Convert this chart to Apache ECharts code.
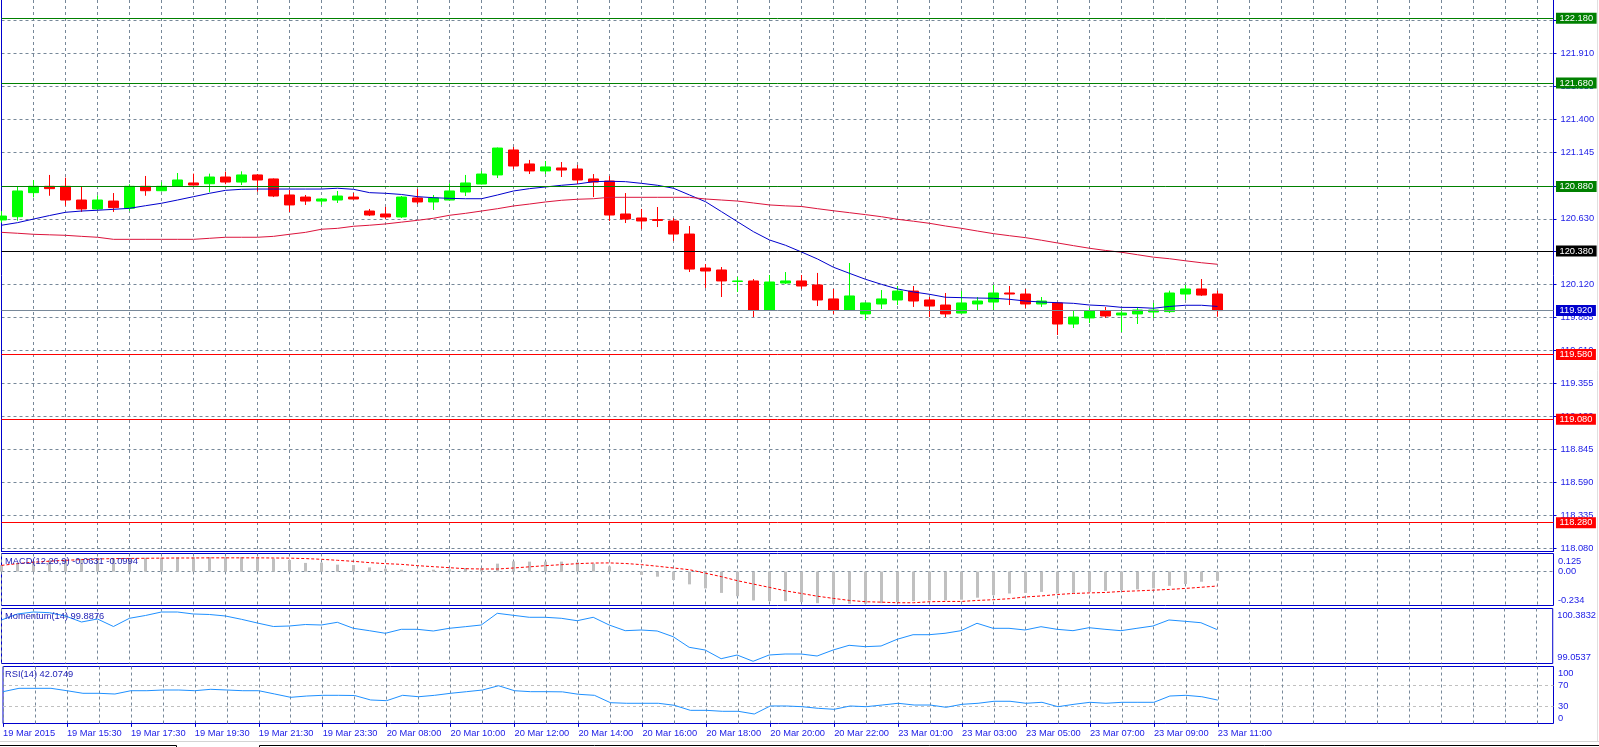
<!DOCTYPE html>
<html><head><meta charset="utf-8">
<script src="https://cdn.jsdelivr.net/npm/echarts@6.0.0/dist/echarts.min.js"></script>
<style>html,body{margin:0;padding:0;background:#fff;overflow:hidden}#c{width:1599px;height:747px}</style>
</head><body><div id="c"></div>
<script>
// ---------- data ----------
const xTickLabels = ['19 Mar 2015','19 Mar 15:30','19 Mar 17:30','19 Mar 19:30','19 Mar 21:30','19 Mar 23:30','20 Mar 08:00','20 Mar 10:00','20 Mar 12:00','20 Mar 14:00','20 Mar 16:00','20 Mar 18:00','20 Mar 20:00','20 Mar 22:00','23 Mar 01:00','23 Mar 03:00','23 Mar 05:00','23 Mar 07:00','23 Mar 09:00','23 Mar 11:00'];
const SLOT_COUNT = 98; // 77 bars + empty space on the right
const openP = [120.621,120.646,120.832,120.881,120.881,120.775,120.706,120.767,120.711,120.881,
 120.847,120.881,120.907,120.901,120.953,120.914,120.969,120.938,120.814,120.798,
 120.767,120.775,120.798,120.690,120.667,120.644,120.791,120.760,120.775,120.837,
 120.899,120.969,121.162,121.054,121.000,121.023,121.015,120.938,120.922,120.667,
 120.636,120.624,120.613,120.512,120.249,120.234,120.145,120.149,119.924,120.133,
 120.149,120.118,120.010,119.924,119.894,119.971,120.002,120.071,120.002,119.963,
 119.901,119.971,119.986,120.056,120.048,119.971,119.979,119.816,119.863,119.917,
 119.886,119.894,119.909,119.912,120.048,120.087,120.048];
const closeP = [120.651,120.845,120.881,120.863,120.775,120.706,120.775,120.716,120.881,120.847,
 120.881,120.930,120.891,120.953,120.914,120.969,120.930,120.806,120.737,120.767,
 120.783,120.806,120.783,120.659,120.644,120.798,120.760,120.791,120.845,120.907,
 120.976,121.177,121.038,121.000,121.031,121.007,120.930,120.914,120.659,120.628,
 120.613,120.617,120.512,120.241,120.226,120.149,120.149,119.924,120.141,120.149,
 120.110,120.002,119.924,120.033,119.979,120.010,120.071,119.994,119.955,119.894,
 119.979,119.994,120.056,120.048,119.971,119.994,119.816,119.870,119.917,119.878,
 119.901,119.924,119.924,120.056,120.087,120.040,119.920];
const lowP = [120.600,120.615,120.796,120.808,120.731,120.683,120.698,120.683,120.692,120.808,
 120.841,120.876,120.887,120.835,120.897,120.891,120.839,120.798,120.683,120.737,
 120.737,120.752,120.779,120.651,120.628,120.636,120.744,120.698,120.771,120.806,
 120.895,120.945,121.015,120.976,120.976,120.953,120.899,120.798,120.613,120.597,
 120.551,120.566,120.458,120.218,120.095,120.025,120.064,119.870,119.921,120.126,
 120.087,119.955,119.894,119.921,119.847,119.932,119.963,119.948,119.870,119.870,
 119.897,119.924,119.924,119.963,119.940,119.948,119.731,119.785,119.824,119.863,
 119.754,119.816,119.863,119.901,120.002,120.033,119.872];
const highP = [120.690,120.878,120.930,120.969,120.948,120.881,120.812,120.829,120.897,120.961,
 120.914,120.984,120.979,120.979,120.995,120.997,120.976,120.942,120.853,120.814,
 120.787,120.845,120.829,120.706,120.721,120.806,120.860,120.814,120.904,120.969,
 120.999,121.181,121.185,121.085,121.077,121.069,121.046,120.976,120.961,120.829,
 120.706,120.721,120.636,120.574,120.280,120.257,120.180,120.164,120.195,120.218,
 120.195,120.211,120.087,120.288,119.983,120.079,120.110,120.110,120.025,120.056,
 120.071,120.025,120.118,120.110,120.087,120.025,119.986,119.917,119.940,119.948,
 119.932,119.948,119.979,120.074,120.118,120.164,120.074];
const maFast = [120.580,120.600,120.628,120.655,120.680,120.690,120.696,120.703,120.711,120.731,
 120.750,120.775,120.801,120.827,120.850,120.858,120.860,120.860,120.860,120.860,
 120.860,120.866,120.858,120.832,120.827,120.818,120.801,120.793,120.788,120.785,
 120.785,120.814,120.845,120.863,120.876,120.889,120.899,120.917,120.920,120.917,
 120.904,120.889,120.866,120.814,120.762,120.685,120.607,120.530,120.466,120.425,
 120.373,120.319,120.255,120.208,120.162,120.123,120.087,120.064,120.046,120.023,
 120.020,120.017,120.015,120.007,119.994,119.986,119.981,119.976,119.963,119.957,
 119.945,119.944,119.938,119.952,119.961,119.961,119.952];
const maSlow = [120.525,120.518,120.510,120.506,120.502,120.494,120.487,120.471,120.471,120.471,
 120.471,120.471,120.471,120.479,120.487,120.487,120.487,120.494,120.510,120.525,
 120.549,120.556,120.572,120.580,120.590,120.604,120.618,120.634,120.657,120.672,
 120.690,120.708,120.729,120.744,120.760,120.773,120.781,120.785,120.796,120.796,
 120.796,120.796,120.796,120.796,120.783,120.775,120.767,120.752,120.737,120.730,
 120.725,120.708,120.692,120.677,120.662,120.646,120.626,120.611,120.595,120.574,
 120.556,120.535,120.515,120.499,120.484,120.464,120.443,120.422,120.402,120.385,
 120.371,120.352,120.333,120.321,120.305,120.290,120.278];
const macdMain = [0.045,0.060,0.072,0.080,0.085,0.088,0.090,0.090,0.094,0.095,
 0.096,0.098,0.099,0.100,0.100,0.100,0.098,0.090,0.080,0.060,
 0.062,0.048,0.045,0.029,0.020,0.013,0.006,0.013,0.016,0.025,
 0.025,0.055,0.071,0.069,0.069,0.069,0.064,0.055,0.036,0.001,
 -0.023,-0.035,-0.058,-0.088,-0.116,-0.147,-0.170,-0.199,-0.204,-0.204,
 -0.211,-0.218,-0.222,-0.222,-0.222,-0.218,-0.211,-0.204,-0.199,-0.199,
 -0.194,-0.180,-0.163,-0.151,-0.147,-0.140,-0.151,-0.147,-0.140,-0.133,
 -0.128,-0.123,-0.116,-0.098,-0.086,-0.070,-0.0631];
const macdSignal = [0.043,0.055,0.065,0.072,0.078,0.083,0.087,0.090,0.091,0.092,
 0.093,0.094,0.094,0.095,0.095,0.095,0.095,0.094,0.093,0.090,
 0.085,0.078,0.071,0.062,0.055,0.050,0.041,0.034,0.027,0.020,
 0.018,0.018,0.025,0.033,0.041,0.048,0.055,0.059,0.060,0.056,
 0.048,0.037,0.025,0.013,-0.011,-0.035,-0.063,-0.086,-0.109,-0.133,
 -0.151,-0.170,-0.185,-0.199,-0.208,-0.211,-0.215,-0.215,-0.208,-0.206,
 -0.206,-0.199,-0.194,-0.187,-0.175,-0.168,-0.158,-0.151,-0.147,-0.144,
 -0.137,-0.133,-0.128,-0.123,-0.116,-0.108,-0.0994];
const momentum = [100.136,100.292,100.344,100.326,100.240,100.083,100.162,99.966,100.180,100.253,
 100.344,100.344,100.292,100.279,100.240,100.154,100.057,99.966,99.979,100.018,
 100.005,100.076,99.919,99.857,99.789,99.893,99.893,99.849,99.919,99.961,
 100.005,100.310,100.258,100.206,100.206,100.180,100.117,100.206,100.005,99.857,
 99.875,99.849,99.700,99.424,99.353,99.127,99.223,99.059,99.223,99.249,
 99.249,99.197,99.353,99.476,99.440,99.458,99.632,99.752,99.752,99.789,
 99.857,100.050,99.919,99.919,99.875,99.961,99.893,99.857,99.935,99.893,
 99.857,99.919,99.979,100.136,100.102,100.065,99.8876];
const rsi = [57.6,63.8,63.8,63.8,59.4,54.6,54.6,53.3,59.4,59.4,
 60.7,60.7,59.4,62.0,60.7,59.4,59.4,53.3,47.2,49.6,
 50.9,50.9,50.5,42.3,41.0,50.9,48.3,50.9,54.6,57.6,
 60.7,68.6,59.4,57.6,57.6,57.3,52.8,50.9,37.3,36.2,
 36.2,36.2,32.5,23.2,23.2,21.4,21.4,16.4,31.2,31.2,
 29.9,26.9,25.1,31.2,29.9,33.0,36.2,33.0,33.0,28.8,
 34.3,36.2,39.9,39.9,36.2,38.0,29.9,34.3,38.0,36.2,
 38.0,38.0,38.0,49.6,50.9,48.3,42.0749];
const priceTicks = [118.080,118.335,118.590,118.845,119.100,119.355,119.610,119.865,120.120,120.375,120.630,120.885,121.145,121.400,121.655,121.910,122.165];
const levelValues = [122.180,121.680,120.880,120.380,119.920,119.580,119.080,118.280];
const macdLabelValues = [0.125, 0, -0.234];
const momentumLabelValues = [100.3832, 99.0537];
const rsiLabelValues = [100, 70, 30, 0];
const rsiLevels = [70, 30];
const paneTitles = ['MACD(12,26,9) -0.0631 -0.0994', 'Momentum(14) 99.8876', 'RSI(14) 42.0749'];

// ---------- styles ----------
const FONT = 'Liberation Sans, Arial, sans-serif';
const FS = 9.3;
const AXIS_TXT = '#1a1ae6';
const BORDER = '#0000cd';
const GRIDC = '#778899';
const levelLineColors = ['#008000','#008000','#008000','#000000','#778899','#ff0000','#ff0000','#ff0000'];
const levelBoxColors  = ['#008000','#008000','#008000','#000000','#0000cd','#ff0000','#ff0000','#ff0000'];

const categories = Array.from({length: SLOT_COUNT}, (_, i) => 'b' + i);
const ohlc = openP.map((o, i) => [o, closeP[i], lowP[i], highP[i]]);

const G = [
  {left: 1.5, width: 1552, top: 0, height: 551.5, show: false},
  {left: 1.5, width: 1552, top: 553.5, height: 52, show: true},
  {left: 1.5, width: 1552, top: 608.5, height: 55, show: true},
  {left: 1.5, width: 1552, top: 666.5, height: 57, show: true}
].map(g => Object.assign(g, {borderColor: BORDER, borderWidth: 1, backgroundColor: 'transparent', containLabel: false}));

function xAx(idx, last) {
  return {
    type: 'category', gridIndex: idx, data: categories, boundaryGap: false,
    axisLine: idx === 0 ? {show: true, onZero: false, lineStyle: {color: BORDER, width: 1}} : {show: false},
    axisTick: last ? {show: true, length: 4, lineStyle: {color: BORDER},
      interval: (i) => i % 4 === 0 && i / 4 < xTickLabels.length} : {show: false},
    axisLabel: last ? {show: true, interval: (i) => i % 4 === 0 && i / 4 < xTickLabels.length,
      formatter: (v, i) => xTickLabels[i / 4] || '', align: 'left', margin: 5,
      color: AXIS_TXT, fontSize: FS, fontFamily: FONT} : {show: false},
    splitLine: {show: true, interval: 1, lineStyle: {color: GRIDC, width: 1, type: [3, 3]}}
  };
}
const rt = (extra) => Object.assign({color: AXIS_TXT, fontSize: FS, fontFamily: FONT}, extra);

// main pane: price = 122.322 - 0.007734 * y ; grid spans y = 0 .. 551.5
const option = {
  animation: false,
  backgroundColor: '#ffffff',
  grid: G,
  title: [
    {text: paneTitles[0], left: 5, top: 557},
    {text: paneTitles[1], left: 5, top: 612},
    {text: paneTitles[2], left: 5, top: 670}
  ].map(t => Object.assign(t, {padding: 0, textStyle: {fontSize: FS, fontWeight: 'normal', color: '#1c1cb4', fontFamily: FONT}})),
  xAxis: [xAx(0, false), xAx(1, false), xAx(2, false), xAx(3, true)],
  yAxis: [
    {type: 'value', gridIndex: 0, position: 'right', min: 118.0567, max: 122.322,
      axisLine: {show: true, onZero: false, lineStyle: {color: BORDER, width: 1}},
      axisTick: {show: true, length: 3, lineStyle: {color: BORDER}, customValues: priceTicks},
      axisLabel: {customValues: priceTicks, formatter: v => v.toFixed(3), color: AXIS_TXT, fontSize: FS, fontFamily: FONT, margin: 7},
      splitLine: {show: true, lineStyle: {color: GRIDC, width: 1, type: [3, 3]}}},
    {type: 'value', gridIndex: 1, position: 'right', min: -0.234, max: 0.125,
      axisLine: {show: false},
      axisTick: {show: false, customValues: [0]},
      axisLabel: {customValues: macdLabelValues, margin: 4.5, color: AXIS_TXT, fontSize: FS, fontFamily: FONT,
        formatter: v => v > 0.05 ? '{t|' + v.toFixed(3) + '}' : (v < -0.05 ? '{b|' + v.toFixed(3) + '}' : '{m|' + v.toFixed(2) + '}'),
        rich: {t: rt({padding: [15, 0, 0, 0]}), b: rt({padding: [0, 0, 11, 0]}), m: rt({})}},
      splitLine: {show: true, lineStyle: {color: GRIDC, width: 1, type: [3, 3]}}},
    {type: 'value', gridIndex: 2, position: 'right', min: 99.0016, max: 100.4353,
      axisLine: {show: false}, axisTick: {show: false},
      axisLabel: {customValues: momentumLabelValues, margin: 4.5, color: AXIS_TXT, fontSize: FS, fontFamily: FONT,
        formatter: v => v > 99.7 ? '{t|' + v.toFixed(4) + '}' : '{b|' + v.toFixed(4) + '}',
        rich: {t: rt({padding: [10.4, 0, 0, 0]}), b: rt({padding: [0, 0, 7.6, 0]})}},
      splitLine: {show: false}},
    {type: 'value', gridIndex: 3, position: 'right', min: -1.1, max: 104.06,
      axisLine: {show: false},
      axisTick: {show: false, customValues: rsiLevels},
      axisLabel: {customValues: rsiLabelValues, margin: 4.5, color: AXIS_TXT, fontSize: FS, fontFamily: FONT,
        formatter: v => v >= 100 ? '{t|' + v + '}' : (v <= 0 ? '{b|' + v + '}' : '{m|' + v + '}'),
        rich: {t: rt({padding: [9.2, 0, 0, 0]}), b: rt({padding: [0, 0, 9.2, 0]}), m: rt({})}},
      splitLine: {show: true, lineStyle: {color: '#c0c0c0', width: 1, type: [3, 3]}}},
    // left frame line of the price pane
    {type: 'value', gridIndex: 0, position: 'left', min: 118.0567, max: 122.322,
      axisLine: {show: true, onZero: false, lineStyle: {color: BORDER, width: 1}},
      axisTick: {show: false}, axisLabel: {show: false}, splitLine: {show: false}}
  ],
  series: [
    {type: 'candlestick', name: 'price', xAxisIndex: 0, yAxisIndex: 0, data: ohlc, barWidth: 10, clip: false,
      itemStyle: {color: '#00ff00', color0: '#ff0000', borderColor: '#00ff00', borderColor0: '#ff0000', borderWidth: 1},
      emphasis: {disabled: true},
      markLine: {
        symbol: ['none', 'none'], silent: true, animation: false,
        label: {show: true, position: 'end', distance: 2.5, formatter: p => Number(p.value).toFixed(3),
          color: '#ffffff', fontSize: FS, fontFamily: FONT, padding: [1, 3.5, 0, 3.5], lineHeight: 10},
        data: levelValues.map((v, k) => ({yAxis: v,
          lineStyle: {color: levelLineColors[k], width: 1, type: 'solid'},
          label: {backgroundColor: levelBoxColors[k]}}))
      }},
    {type: 'line', name: 'MA fast', xAxisIndex: 0, yAxisIndex: 0, data: maFast, showSymbol: false, symbol: 'none',
      lineStyle: {color: '#0000cd', width: 1}, emphasis: {disabled: true}},
    {type: 'line', name: 'MA slow', xAxisIndex: 0, yAxisIndex: 0, data: maSlow, showSymbol: false, symbol: 'none',
      lineStyle: {color: '#dc143c', width: 1}, emphasis: {disabled: true}},
    {type: 'bar', name: 'MACD', xAxisIndex: 1, yAxisIndex: 1, data: macdMain, barWidth: 3,
      itemStyle: {color: '#c0c0c0'}, emphasis: {disabled: true}},
    {type: 'line', name: 'Signal', xAxisIndex: 1, yAxisIndex: 1, data: macdSignal, showSymbol: false, symbol: 'none',
      lineStyle: {color: '#ff0000', width: 1, type: [3, 2]}, emphasis: {disabled: true}},
    {type: 'line', name: 'Momentum', xAxisIndex: 2, yAxisIndex: 2, data: momentum, showSymbol: false, symbol: 'none',
      lineStyle: {color: '#1e90ff', width: 1}, emphasis: {disabled: true}},
    {type: 'line', name: 'RSI', xAxisIndex: 3, yAxisIndex: 3, data: rsi, showSymbol: false, symbol: 'none',
      lineStyle: {color: '#1e90ff', width: 1}, emphasis: {disabled: true}}
  ],
  graphic: [
    {type: 'line', shape: {x1: 0, y1: 741.5, x2: 1599, y2: 741.5}, style: {stroke: '#d4d4d4', lineWidth: 1}, silent: true},
    {type: 'line', shape: {x1: 1597.5, y1: 0, x2: 1597.5, y2: 741}, style: {stroke: '#e0e0e0', lineWidth: 1}, silent: true},
    {type: 'polyline', shape: {points: [[0, 745.5], [176.5, 745.5], [176.5, 748]]}, style: {stroke: '#000000', fill: null, lineWidth: 1}, silent: true},
    {type: 'polyline', shape: {points: [[259.5, 748], [259.5, 745.5], [1599, 745.5]]}, style: {stroke: '#000000', fill: null, lineWidth: 1}, silent: true}
  ]
};
const chart = echarts.init(document.getElementById('c'), null, {renderer: 'canvas'});
chart.setOption(option);
</script>
</body></html>
